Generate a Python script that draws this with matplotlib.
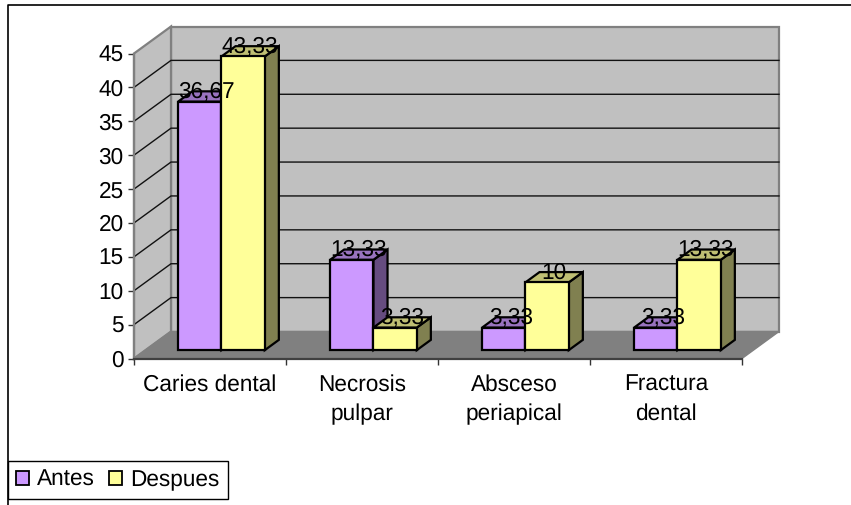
import matplotlib
matplotlib.use('Agg')
import matplotlib.pyplot as plt
from matplotlib.patches import Polygon, Patch

categories = ['Caries dental', 'Necrosis\npulpar', 'Absceso\nperiapical', 'Fractura\ndental']
antes = [36.67, 13.33, 3.33, 3.33]
despues = [43.33, 3.33, 10, 13.33]
y_ticks = [0, 5, 10, 15, 20, 25, 30, 35, 40, 45]

W, H = 851, 505
PLOT_L, PLOT_R = 134, 742
PLOT_T, PLOT_B = 53.5, 358.5
FONT = 16.3

# oblique projection: depth 1 is the back wall, offset in data units
DX = 37 / 152
DY = 27 / (305 / 45)
BAR_W = 0.285
BAR_D0, BAR_D1 = 0.31, 0.69


def proj(x, y, d):
    return (x + d * DX, y + d * DY)


def box(ax, x0, x1, top, face, side, lid):
    p = proj
    faces = [
        ([p(x1, 0, BAR_D0), p(x1, 0, BAR_D1), p(x1, top, BAR_D1), p(x1, top, BAR_D0)], side),
        ([p(x0, top, BAR_D0), p(x1, top, BAR_D0), p(x1, top, BAR_D1), p(x0, top, BAR_D1)], lid),
        ([p(x0, 0, BAR_D0), p(x1, 0, BAR_D0), p(x1, top, BAR_D0), p(x0, top, BAR_D0)], face),
    ]
    for pts, col in faces:
        ax.add_patch(Polygon(pts, closed=True, facecolor=col, edgecolor='black',
                             linewidth=1.6, joinstyle='miter', clip_on=False, zorder=4))


plt.rcParams['font.family'] = ['Liberation Sans', 'DejaVu Sans']
plt.rcParams['text.hinting'] = 'no_hinting'
fig = plt.figure(figsize=(W / 100, H / 100), dpi=100)
ax = fig.add_axes([PLOT_L / W, 1 - PLOT_B / H, (PLOT_R - PLOT_L) / W, (PLOT_B - PLOT_T) / H])
ax.set_xlim(0, len(categories))
ax.set_ylim(0, 45)
ax.patch.set_visible(False)

# outer chart border, top and left only
fig.add_artist(plt.Line2D([8 / W, 8 / W, 1], [0, 1 - 5 / H, 1 - 5 / H], color='black', linewidth=1.2))

n = len(categories)
ymax = y_ticks[-1]
wall = '#C0C0C0'
edge = '#808080'

# back wall, side wall and floor
ax.add_patch(Polygon([proj(0, 0, 1), proj(n, 0, 1), proj(n, ymax, 1), proj(0, ymax, 1)],
                     facecolor=wall, edgecolor=edge, linewidth=1.6, clip_on=False, zorder=1))
ax.add_patch(Polygon([proj(0, 0, 0), proj(0, 0, 1), proj(0, ymax, 1), proj(0, ymax, 0)],
                     facecolor=wall, edgecolor=edge, linewidth=1.6, clip_on=False, zorder=1))
ax.add_patch(Polygon([proj(0, 0, 0), proj(n, 0, 0), proj(n, 0, 1), proj(0, 0, 1)],
                     facecolor=edge, edgecolor=edge, linewidth=1.0, clip_on=False, zorder=2))

# gridlines run across the side wall and then the back wall
for v in y_ticks[1:-1]:
    a, b = proj(0, v, 0), proj(0, v, 1)
    c = proj(n, v, 1)
    ax.plot([a[0], b[0], c[0]], [a[1], b[1], c[1]], color='#111111', linewidth=1.0,
            clip_on=False, zorder=3, solid_joinstyle='miter')

for i in range(n):
    c = i + 0.5
    box(ax, c - BAR_W, c, antes[i], '#CC99FF', '#664C80', '#9973BF')
    box(ax, c, c + BAR_W, despues[i], '#FFFF99', '#808050', '#BFBF73')

# value labels sit just above the front edge of each bar's lid
for i in range(n):
    c = i + 0.5
    for xc, v in ((c - BAR_W / 2, antes[i]), (c + BAR_W / 2, despues[i])):
        ax.annotate(f'{v:g}'.replace('.', ','), proj(xc, v, BAR_D0), xytext=(5, 2.4),
                    textcoords='offset points', ha='center', va='baseline',
                    fontsize=FONT, color='black', zorder=6, annotation_clip=False)

ax.set_yticks(y_ticks)
ax.set_xticks(range(n + 1))
ax.set_xticklabels([])
ax.set_xticks([i + 0.5 for i in range(n)], minor=True)
ax.set_xticklabels(categories, minor=True, linespacing=1.45)
ax.tick_params(axis='y', length=4, width=1, labelsize=FONT, pad=3.5, color='#333333')
ax.tick_params(axis='x', which='major', length=4, width=1, color='#333333')
ax.tick_params(axis='x', which='minor', length=0, labelsize=FONT, pad=11.5)
for s in ('top', 'right'):
    ax.spines[s].set_visible(False)
ax.spines['left'].set_color(edge)
ax.spines['left'].set_linewidth(1.6)
ax.spines['bottom'].set_color('#404040')
ax.spines['bottom'].set_linewidth(1.6)
ax.spines['left'].set_zorder(3)
ax.spines['bottom'].set_zorder(3)

handles = [Patch(facecolor='#CC99FF', edgecolor='black', linewidth=1.3),
           Patch(facecolor='#FFFF99', edgecolor='black', linewidth=1.3)]
fig.legend(handles, ['Antes', 'Despues'], ncol=2, loc='lower left',
           bbox_to_anchor=(8 / W, 1 - 499 / H), bbox_transform=fig.transFigure,
           fontsize=FONT, frameon=True, fancybox=False, edgecolor='black', framealpha=1,
           handlelength=0.55, handleheight=0.55, handletextpad=0.39, columnspacing=0.62,
           borderpad=0.36, borderaxespad=0)

fig.savefig('out.png', dpi=100, facecolor='white')
